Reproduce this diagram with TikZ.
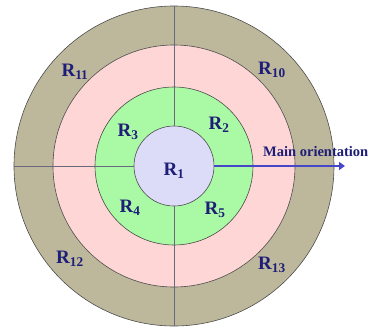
\documentclass[tikz,border=0pt]{standalone}
\usepackage{fontspec}
\setmainfont{Liberation Serif}
\usetikzlibrary{arrows.meta,positioning}
\definecolor{outerc}{RGB}{189,184,155}
\definecolor{pinkc}{RGB}{255,214,214}
\definecolor{greenc}{RGB}{170,250,165}
\definecolor{corec}{RGB}{220,220,248}
\definecolor{textc}{RGB}{30,30,120}
\definecolor{arrowc}{RGB}{70,70,200}
\definecolor{linec}{RGB}{105,105,125}

\begin{document}
\begin{tikzpicture}[
      x=1pt, y=1pt,
      ring/.style={circle, draw=black!70, line width=0.6pt, inner sep=0pt, outer sep=0pt},
      label/.style={font=\bfseries\fontsize{19}{19}\selectfont, text=textc},
      line/.style={draw=linec, line width=0.7pt},
      orient/.style={draw=arrowc, line width=2.8pt, -{Triangle[length=6pt, width=8pt]}}
    ]
    \useasboundingbox (-174,-167) rectangle (196,166);
    % Rings
    \node [ring, fill=outerc, minimum size=320pt] (outer) at (0,0) {};
    \node [ring, fill=pinkc, minimum size=242pt] (middle) at (0,0) {};
    \node [ring, fill=greenc, minimum size=158pt] (inner) at (0,0) {};
    \node [ring, fill=corec, minimum size=80pt] (core) at (0,0) {};
    % Lines
    \path [line] (core.north) -- (outer.north);
    \path [line] (core.south) -- (outer.south);
    \path [line] (core.west) -- (outer.west);
    \coordinate (tip) at (171,0);
    \path [orient] (core.east) -- (tip);
    % Labels
    \node [label] (r1) at (0,-5) {R\textsubscript{1}};
    \node [label] (r2) at (45,41) {R\textsubscript{2}};
    \node [label] (r3) at (-46,34) {R\textsubscript{3}};
    \node [label] (r4) at (-44,-42) {R\textsubscript{4}};
    \node [label] (r5) at (41,-44) {R\textsubscript{5}};
    \node [label] (r10) at (98,96) {R\textsubscript{10}};
    \node [label] (r11) at (-99,94) {R\textsubscript{11}};
    \node [label] (r12) at (-104,-93) {R\textsubscript{12}};
    \node [label] (r13) at (98,-99) {R\textsubscript{13}};
    \node [font=\bfseries\fontsize{14.5}{14.5}\selectfont, text=textc, anchor=base west, inner sep=0pt] (main) at (89,9.5) {Main orientation};
  \end{tikzpicture}
\end{document}
